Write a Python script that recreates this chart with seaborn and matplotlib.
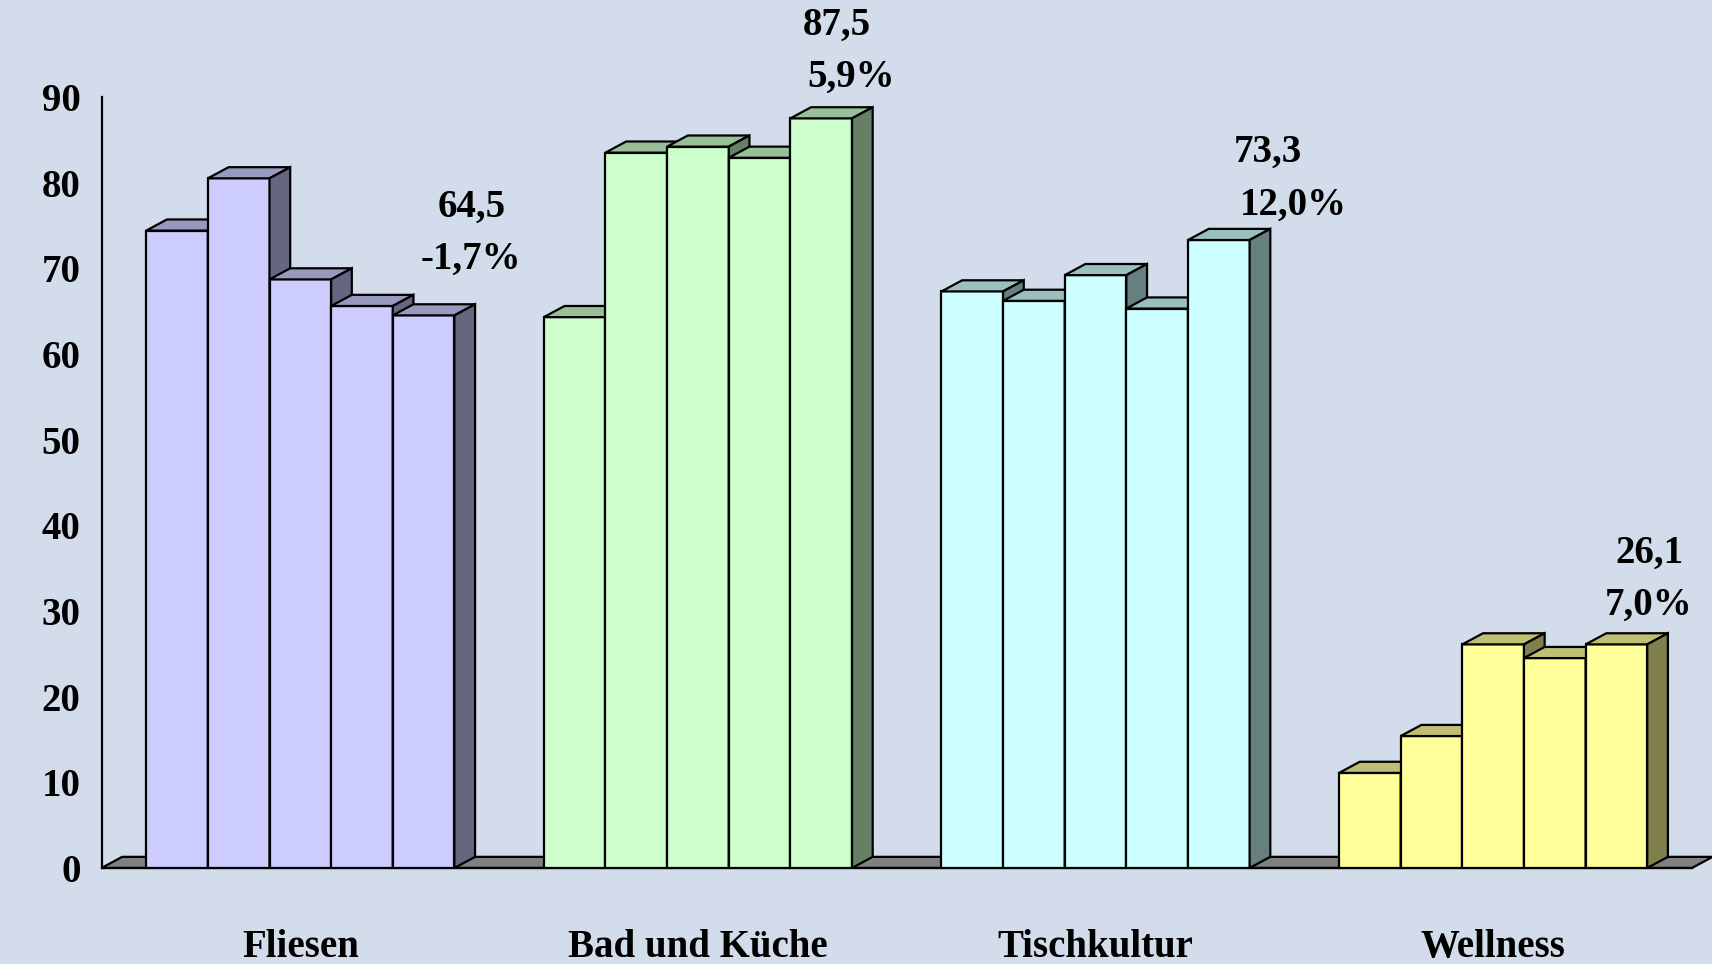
import numpy as np
import pandas as pd
import matplotlib
matplotlib.use("Agg")
import matplotlib.pyplot as plt
import seaborn as sns
from matplotlib.patches import Polygon
from matplotlib.colors import to_rgb

# ── Data ──────────────────────────────────────────────────────────────
categories = ["Fliesen", "Bad und Küche", "Tischkultur", "Wellness"]
periods = ["P1", "P2", "P3", "P4", "P5"]

fliesen = [74.4, 80.5, 68.7, 65.6, 64.5]
bad_kueche = [64.3, 83.5, 84.2, 82.9, 87.5]
tischkultur = [67.3, 66.2, 69.2, 65.3, 73.3]
wellness = [11.1, 15.4, 26.1, 24.5, 26.1]

value_labels = ["64,5", "87,5", "73,3", "26,1"]
change_labels = ["-1,7%", "5,9%", "12,0%", "7,0%"]

# ── Style ─────────────────────────────────────────────────────────────
BG = "#D2DCEA"
front_colors = ["#CCCCFF", "#CCFFCC", "#CCFFFF", "#FFFF99"]
FS = 28

sns.set_style("white")
plt.rcParams["font.family"] = ["Liberation Serif", "DejaVu Serif"]
plt.rcParams["font.weight"] = "bold"
plt.rcParams["text.color"] = "black"
plt.rcParams["xtick.color"] = "black"
plt.rcParams["ytick.color"] = "black"

df = pd.DataFrame({
    "Bereich": np.repeat(categories, len(periods)),
    "Periode": periods * len(categories),
    "Wert": fliesen + bad_kueche + tischkultur + wellness,
})

fig = plt.figure(figsize=(17.12, 9.64), dpi=100, facecolor=BG)
ax = fig.add_axes([0.0593, 0.0996, 0.929, 0.8887])
ax.set_facecolor(BG)

sns.barplot(
    data=df, x="Bereich", y="Wert", hue="Periode",
    order=categories, hue_order=periods,
    width=0.775, dodge=True, legend=False, errorbar=None,
    saturation=1, edgecolor="black", linewidth=1.6, ax=ax,
)

ax.set_xlim(-0.5, 3.5)
ax.set_ylim(0, 100)

# pseudo-3D depth (x in category units, y in data units)
dx, dy = 0.052, 1.3


def shade(c, f):
    r, g, b = to_rgb(c)
    return (r * f, g * f, b * f)


for j, cont in enumerate(ax.containers):
    z = 3 + j * 0.1
    for i, bar in enumerate(cont):
        col = front_colors[i]
        bar.set_facecolor(col)
        bar.set_zorder(z)
        x, w, h = bar.get_x(), bar.get_width(), bar.get_height()
        top = Polygon([(x, h), (x + w, h), (x + w + dx, h + dy), (x + dx, h + dy)],
                      closed=True, facecolor=shade(col, 0.75), edgecolor="black",
                      linewidth=1.6, zorder=z, joinstyle="miter")
        side = Polygon([(x + w, 0), (x + w + dx, dy), (x + w + dx, h + dy), (x + w, h)],
                       closed=True, facecolor=shade(col, 0.5), edgecolor="black",
                       linewidth=1.6, zorder=z, joinstyle="miter")
        ax.add_patch(top)
        ax.add_patch(side)

# floor
floor = Polygon([(-0.5, 0), (3.5, 0), (3.5 + dx, dy), (-0.5 + dx, dy)], closed=True,
                facecolor="#808080", edgecolor="black", linewidth=1.6, zorder=2,
                clip_on=False)
ax.add_patch(floor)

# ── Axes ──────────────────────────────────────────────────────────────
sns.despine(ax=ax)
ax.spines["left"].set_bounds(0, 90)
for s in ("left", "bottom"):
    ax.spines[s].set_linewidth(1.6)
    ax.spines[s].set_color("black")
ax.set_yticks(range(0, 100, 10))
ax.tick_params(axis="y", length=7, width=1.6, pad=8, labelsize=FS, color="black")
ax.set_xticks(range(len(categories)))
ax.set_xticklabels(categories)
ax.set_xticks([-0.5, 0.5, 1.5, 2.5, 3.5], minor=True)
ax.tick_params(axis="x", which="major", length=0, pad=44, labelsize=FS)
ax.tick_params(axis="x", which="minor", length=10, width=1.6, color="black")
ax.set_xlabel("")
ax.set_ylabel("")

# value / change labels
val_dx = [0.431, 0.349, 0.434, 0.393]
pct_dx = [0.429, 0.385, 0.497, 0.39]
pct_dy = [6.5, 4.8, 4.1, 4.5]
last_vals = [fliesen[-1], bad_kueche[-1], tischkultur[-1], wellness[-1]]
for k in range(len(categories)):
    y0 = last_vals[k] + pct_dy[k]
    ax.text(k + pct_dx[k], y0, change_labels[k], ha="center", va="center",
            fontsize=FS, fontweight="bold", color="black", zorder=10)
    ax.text(k + val_dx[k], y0 + 6.1, value_labels[k], ha="center", va="center",
            fontsize=FS, fontweight="bold", color="black", zorder=10)

fig.savefig("out.png", dpi=100, facecolor=BG)
